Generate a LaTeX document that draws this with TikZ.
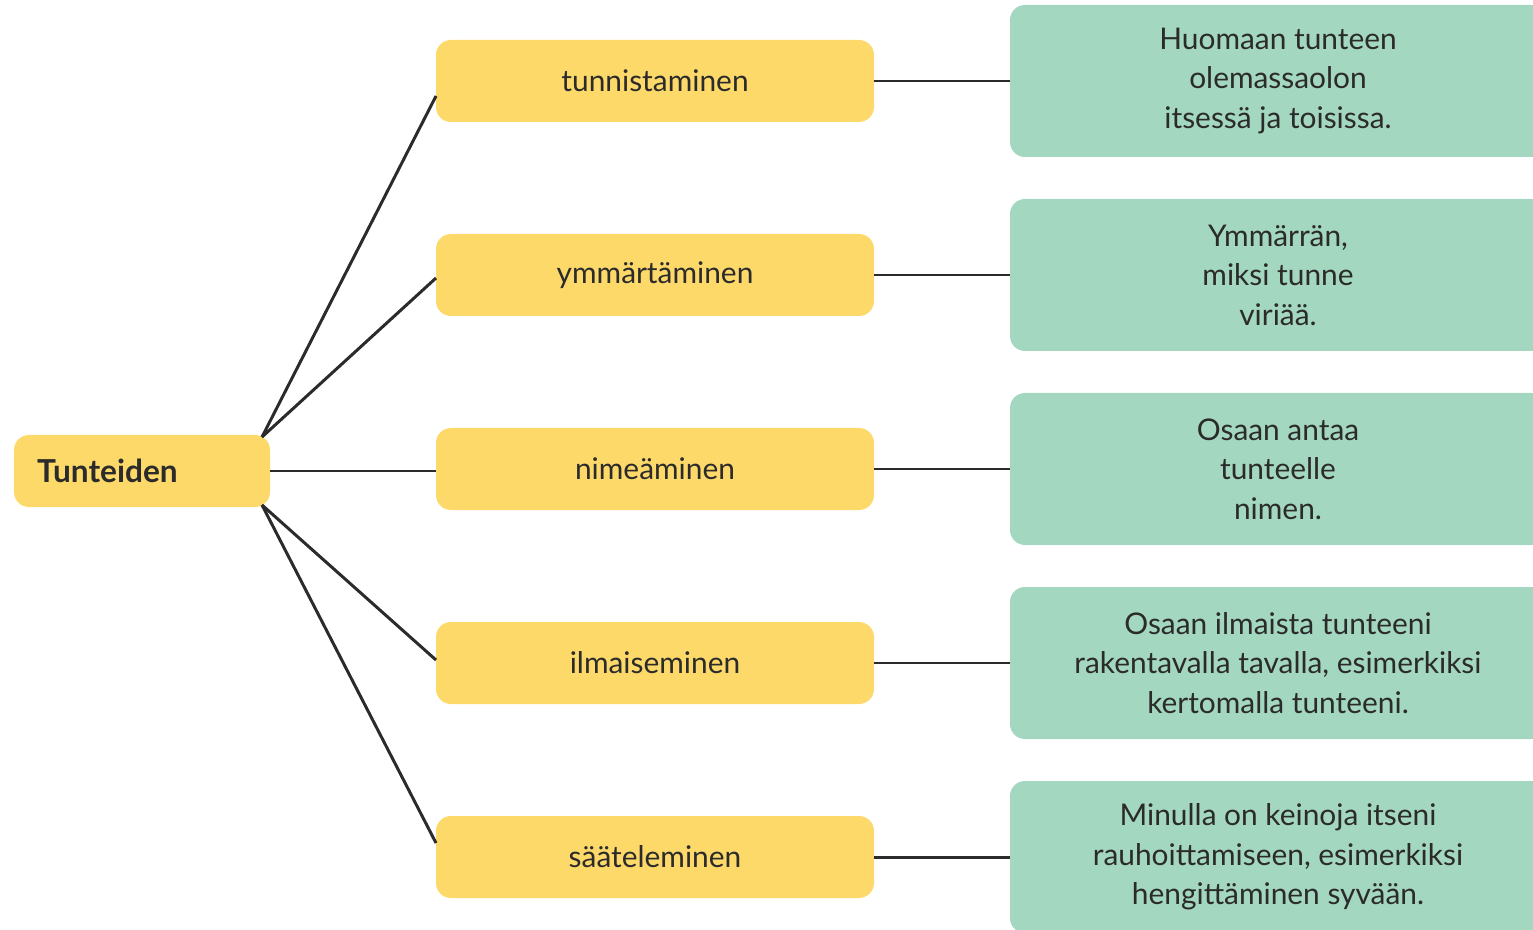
\documentclass[tikz,border=0pt]{standalone}
\usepackage{fontspec}
\setmainfont{Lato}
\usepackage{xcolor}
\definecolor{boxyellow}{HTML}{FDD96A}
\definecolor{boxgreen}{HTML}{A3D7BF}
\definecolor{inkdark}{HTML}{2B2B2B}
\usetikzlibrary{positioning}
\tikzset{
  every picture/.style = {
    line width = 1.7pt,
    node distance = 2.24cm and 3.32cm,
  }
  ,
  rootbox/.style = {
    rectangle,
    rounded corners = 0.3cm,
    outer sep = 0pt,
    fill = boxyellow,
    text = inkdark,
    font = \fontsize{18}{21}\selectfont\bfseries,
    align = left,
    text width = 4.2cm,
    inner xsep = 0.46cm,
    minimum height = 1.44cm
  }
  , % skills
  skillbox/.style = {
    rectangle,
    rounded corners = 0.3cm,
    outer sep = 0pt,
    fill = boxyellow,
    text = inkdark,
    font = \fontsize{17}{21}\selectfont,
    minimum width = 8.76cm,
    minimum height = 1.64cm
  }
  , % descriptions
  notebox/.style = {
    rectangle,
    rounded corners = 0.3cm,
    outer sep = 0pt,
    fill = boxgreen,
    text = inkdark,
    font = \fontsize{17}{22.5}\selectfont,
    align = center,
    minimum width = 10.72cm,
    minimum height = 3.04cm
  }
  ,
  link/.style = {
    draw = inkdark
  }
}
\begin{document}
\begin{tikzpicture}
    \useasboundingbox (0,0) rectangle (30.66,-18.6);
    \node [rootbox] (root) at (2.84,-9.42) {Tunteiden};
    \node [skillbox, right = of root, yshift=0.04cm] (nim) {nimeäminen};
    \node [skillbox, above = of nim] (ymm) {ymmärtäminen};
    \node [skillbox, above = of ymm] (tun) {tunnistaminen};
    \node [skillbox, below = of nim] (ilm) {ilmaiseminen};
    \node [skillbox, below = of ilm] (saa) {sääteleminen};
    \node [notebox, right = 2.72cm of tun] (tunnote) {Huomaan tunteen\\olemassaolon\\itsessä ja toisissa.};
    \node [notebox, right = 2.72cm of ymm] (ymmnote) {Ymmärrän,\\miksi tunne\\viriää.};
    \node [notebox, right = 2.72cm of nim] (nimnote) {Osaan antaa\\tunteelle\\nimen.};
    \node [notebox, right = 2.72cm of ilm] (ilmnote) {Osaan ilmaista tunteeni\\rakentavalla tavalla, esimerkiksi\\kertomalla tunteeni.};
    \node [notebox, right = 2.72cm of saa] (saanote) {Minulla on keinoja itseni\\rauhoittamiseen, esimerkiksi\\hengittäminen syvään.};
    \coordinate (hubup) at ([xshift=-0.16cm, yshift=-0.04cm]root.north east);
    \coordinate (hubdown) at ([xshift=-0.16cm, yshift=0.04cm]root.south east);
    \draw [link] (hubup) -- ([yshift=-0.3cm]tun.west);
    \draw [link] (hubup) -- ([yshift=-0.06cm]ymm.west);
    \draw [link] (root) -- (root -| nim.west);
    \draw [link] (hubdown) -- ([yshift=0.06cm]ilm.west);
    \draw [link] (hubdown) -- ([yshift=0.28cm]saa.west);
    \foreach \s in {tun, ymm, nim, ilm, saa}
      \draw [link] (\s) -- (\s note);
\end{tikzpicture}
\end{document}
